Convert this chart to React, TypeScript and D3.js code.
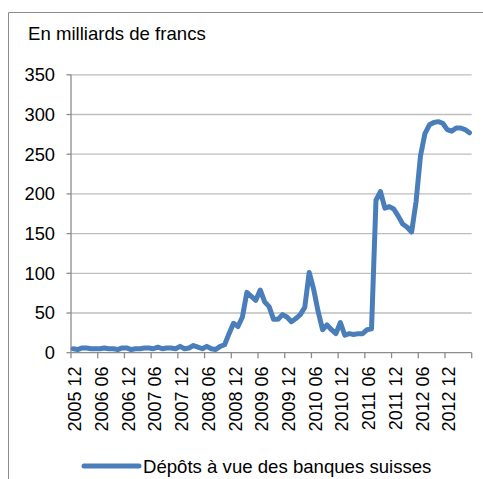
import React from 'react';
import * as d3 from 'd3';

// monthly values, 2005 12 .. 2013 05 (billions CHF)
const values = [
  5, 4, 6, 6, 5, 5, 5, 6, 5, 5, 4, 6,
  6, 4, 5, 5, 6, 6, 5, 7, 5, 6, 6, 5,
  8, 5, 6, 9, 7, 5, 8, 5, 4, 8, 10, 24,
  37, 33, 45, 76, 71, 66, 79, 64, 58, 42, 42, 48,
  45, 39, 43, 48, 57, 101, 80, 52, 29, 35, 29, 24,
  38, 22, 24, 23, 24, 24, 29, 30, 192, 203, 182, 184,
  181, 172, 162, 158, 152, 190, 248, 276, 287, 290, 291, 289,
  281, 279, 283, 283, 281, 277,
];

const startYear = 2005;
const startMonth = 12;
const months = values.map((_, i) => {
  const m = startMonth - 1 + i;
  const y = startYear + Math.floor(m / 12);
  const mm = (m % 12) + 1;
  return `${y} ${String(mm).padStart(2, '0')}`;
});

const yTicks = [0, 50, 100, 150, 200, 250, 300, 350];
const title = 'En milliards de francs';
const seriesName = 'Dépôts à vue des banques suisses';

export default function App() {
  const width = 483;
  const height = 479;
  const left = 71;
  const right = 471.7;
  const top = 74.8;
  const bottom = 352.7;

  const x = d3.scaleBand<string>().domain(months).range([left, right]);
  const y = d3.scaleLinear().domain([0, 350]).range([bottom, top]);

  const line = d3.line<number>()
    .x((_, i) => (x(months[i]) as number) + x.bandwidth() / 2)
    .y(d => y(d));

  const tickIdx = months.map((_, i) => i).filter(i => i % 6 === 0);
  const font = "'Liberation Sans', Arial, sans-serif";

  return (
    <svg width={width} height={height} style={{ position: 'absolute', left: 0, top: 0, background: '#fff' }}
      fontFamily={font}>
      <path d={`M8.5,${height} V12.5 H${width}`} fill="none" stroke="#8c8c8c" strokeWidth={1} />
      <text x={28} y={39.5} fontSize={18.6} fill="#000">{title}</text>

      {yTicks.map(t => (
        <g key={t}>
          {t > 0 && <line x1={left} x2={right} y1={y(t)} y2={y(t)} stroke="#bebebe" strokeWidth={1.3} />}
          <line x1={left - 4.5} x2={left} y1={y(t)} y2={y(t)} stroke="#8c8c8c" strokeWidth={1.3} />
          <text x={55} y={y(t)} dy="0.35em" textAnchor="end" fontSize={18.3} fill="#000">{t}</text>
        </g>
      ))}
      <line x1={left} x2={left} y1={top} y2={bottom} stroke="#8c8c8c" strokeWidth={1.3} />
      <line x1={left} x2={right} y1={bottom} y2={bottom} stroke="#8c8c8c" strokeWidth={1.3} />
      {[...tickIdx, months.length].map(i => {
        const px = i < months.length ? (x(months[i]) as number) : right;
        return <line key={i} x1={px} x2={px} y1={bottom} y2={bottom + 5.5} stroke="#8c8c8c" strokeWidth={1.3} />;
      })}
      {tickIdx.map(i => {
        const px = (x(months[i]) as number) + x.bandwidth() / 2 + 1.8;
        return (
          <text key={i} transform={`translate(${px},366.5) rotate(-90)`} dy="0.35em" textAnchor="end"
            fontSize={18} fill="#000">{months[i]}</text>
        );
      })}

      <path d={line(values) || ''} fill="none" stroke="#4a7ebb" strokeWidth={5} strokeLinejoin="round" strokeLinecap="round" />

      <line x1={84} x2={139} y1={466} y2={466} stroke="#4a7ebb" strokeWidth={5} strokeLinecap="round" />
      <text x={143} y={466} dy="0.35em" fontSize={18.6} fill="#000">{seriesName}</text>
    </svg>
  );
}
